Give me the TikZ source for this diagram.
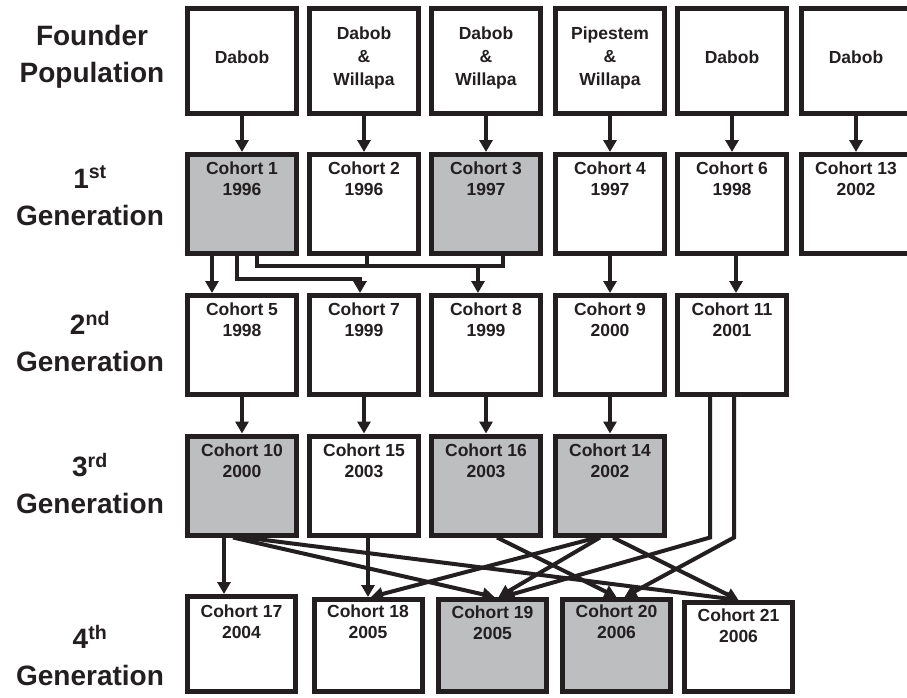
\documentclass[tikz,border=0pt]{standalone}
\usepackage{fontspec}
\setmainfont{Liberation Sans}
\usetikzlibrary{positioning,arrows.meta}
\definecolor{ink}{HTML}{231F20}
\definecolor{shade}{HTML}{BCBEC0}

\begin{document}
\begin{tikzpicture}[>={Triangle[width=13pt,length=12pt]},x=1pt,y=-1pt,
    box/.style={draw=ink,line width=5pt,fill=white,minimum width=109pt,minimum height=99pt,inner sep=0pt},
    grey/.style={box,fill=shade},
    txt/.style={anchor=north,align=center,inner sep=0pt,text=ink,font=\fontsize{17.5}{21}\selectfont\bfseries},
    found/.style={align=center,inner sep=0pt,text=ink,font=\fontsize{17.5}{23}\selectfont\bfseries},
    gen/.style={anchor=north,align=center,inner sep=0pt,text=ink,font=\fontsize{28}{37}\selectfont\bfseries},
    link/.style={draw=ink,line width=4pt},
    arr/.style={link,->}]
    \fill[white] (0,0) rectangle (907,697);
    \useasboundingbox (0,0) rectangle (907,697);

    % row labels
    \node[gen] (lf) at (92,25) {Founder\\Population};
    \node[gen] (l1) at (90,166) {1\textsuperscript{st}\\Generation};
    \node[gen] (l2) at (90,311) {2\textsuperscript{nd}\\Generation};
    \node[gen] (l3) at (90,453) {3\textsuperscript{rd}\\Generation};
    \node[gen] (l4) at (90,625) {4\textsuperscript{th}\\Generation};

    % founder populations
    \node[box,minimum height=105pt] (f1) at (242,61) {};
    \node[box,minimum height=105pt] (f2) at (364,61) {};
    \node[box,minimum height=105pt] (f3) at (486,61) {};
    \node[box,minimum height=105pt] (f4) at (610,61) {};
    \node[box,minimum height=105pt] (f5) at (732,61) {};
    \node[box,minimum height=105pt] (f6) at (856,61) {};
    \node[found] (f1t) at ([yshift=4pt]f1.center) {Dabob};
    \node[found] (f2t) at ([yshift=3pt]f2.center) {Dabob\\\&\\Willapa};
    \node[found] (f3t) at ([yshift=3pt]f3.center) {Dabob\\\&\\Willapa};
    \node[found] (f4t) at ([yshift=3pt]f4.center) {Pipestem\\\&\\Willapa};
    \node[found] (f5t) at ([yshift=4pt]f5.center) {Dabob};
    \node[found] (f6t) at ([yshift=4pt]f6.center) {Dabob};

    % 1st generation
    \node[grey] (c1) at (242,204) {};
    \node[box] (c2) at (364,204) {};
    \node[grey] (c3) at (486,204) {};
    \node[box] (c4) at (610,204) {};
    \node[box] (c6) at (732,204) {};
    \node[box] (c13) at (856,204) {};
    \node[txt] (c1t) at ([yshift=-10pt]c1.north) {Cohort 1\\1996};
    \node[txt] (c2t) at ([yshift=-10pt]c2.north) {Cohort 2\\1996};
    \node[txt] (c3t) at ([yshift=-10pt]c3.north) {Cohort 3\\1997};
    \node[txt] (c4t) at ([yshift=-10pt]c4.north) {Cohort 4\\1997};
    \node[txt] (c6t) at ([yshift=-10pt]c6.north) {Cohort 6\\1998};
    \node[txt] (c13t) at ([yshift=-10pt]c13.north) {Cohort 13\\2002};

    % 2nd generation
    \node[box] (c5) at (242,345) {};
    \node[box] (c7) at (364,345) {};
    \node[box] (c8) at (486,345) {};
    \node[box] (c9) at (610,345) {};
    \node[box] (c11) at (732,345) {};
    \node[txt] (c5t) at ([yshift=-10pt]c5.north) {Cohort 5\\1998};
    \node[txt] (c7t) at ([yshift=-10pt]c7.north) {Cohort 7\\1999};
    \node[txt] (c8t) at ([yshift=-10pt]c8.north) {Cohort 8\\1999};
    \node[txt] (c9t) at ([yshift=-10pt]c9.north) {Cohort 9\\2000};
    \node[txt] (c11t) at ([yshift=-10pt]c11.north) {Cohort 11\\2001};

    % 3rd generation
    \node[grey] (c10) at (242,485.5) {};
    \node[box] (c15) at (364,485.5) {};
    \node[grey] (c16) at (486,485.5) {};
    \node[grey] (c14) at (610,485.5) {};
    \node[txt] (c10t) at ([yshift=-10pt]c10.north) {Cohort 10\\2000};
    \node[txt] (c15t) at ([yshift=-10pt]c15.north) {Cohort 15\\2003};
    \node[txt] (c16t) at ([yshift=-10pt]c16.north) {Cohort 16\\2003};
    \node[txt] (c14t) at ([yshift=-10pt]c14.north) {Cohort 14\\2002};

    % 4th generation
    \node[box,minimum width=108pt,minimum height=95pt] (c17) at (241.5,644) {};
    \node[box,minimum width=108pt,minimum height=92pt] (c18) at (368,645.5) {};
    \node[grey,minimum width=108pt,minimum height=92pt] (c19) at (492.5,645.5) {};
    \node[grey,minimum width=108pt,minimum height=92pt] (c20) at (616.5,645.5) {};
    \node[box,minimum width=108pt,minimum height=89pt] (c21) at (738.5,647) {};
    \node[txt] (c17t) at ([yshift=-11pt]c17.north) {Cohort 17\\2004};
    \node[txt] (c18t) at ([yshift=-8pt]c18.north) {Cohort 18\\2005};
    \node[txt] (c19t) at ([yshift=-9pt]c19.north) {Cohort 19\\2005};
    \node[txt] (c20t) at ([yshift=-8pt]c20.north) {Cohort 20\\2006};
    \node[txt] (c21t) at ([yshift=-9pt]c21.north) {Cohort 21\\2006};

    % founders to 1st generation
    \foreach \a/\b in {f1/c1,f2/c2,f3/c3,f4/c4,f5/c6,f6/c13}
        \draw[arr] (\a) -- (\b);

    % 1st to 2nd generation
    \draw[arr] ([xshift=-30pt]c1.south) -- ([xshift=-30pt]c5.north);
    \draw[arr] ([xshift=-5pt]c1.south) -- ++(0,23) -| ([xshift=-4pt]c7.north);
    \draw[link] ([xshift=15pt]c1.south) -- ++(0,10) -| ([xshift=17pt]c3.south);
    \draw[link] ([xshift=3pt]c2.south) -- ++(0,10);
    \coordinate (bus) at ([xshift=-8pt,yshift=-10pt]c3.south);
    \draw[arr] (bus) -- (bus |- c8.north);
    \draw[arr] (c4) -- (c9);
    \draw[arr] ([xshift=4pt]c6.south) -- ([xshift=4pt]c11.north);

    % 2nd to 3rd generation
    \foreach \a/\b in {c5/c10,c7/c15,c8/c16,c9/c14}
        \draw[arr] (\a) -- (\b);
    \draw[arr] ([xshift=-22pt]c11.south) -- ([xshift=-22pt]c11.south |- c14.south) -- ([xshift=10pt]c19.north);
    \draw[arr] ([xshift=2pt]c11.south) -- ([xshift=2pt]c11.south |- c14.south) -- ([xshift=8pt]c20.north);

    % 3rd to 4th generation
    \draw[arr] ([xshift=-18pt]c10.south) -- ([xshift=-18pt]c10.south |- c17.north);
    \draw[arr] ([xshift=-9pt]c10.south) -- ([xshift=2pt]c19.north);
    \draw[arr] ([xshift=3pt]c10.south) -- (c21.north);
    \draw[arr] ([xshift=4pt]c15.south) -- (c18.north);
    \draw[arr] ([xshift=11pt]c16.south) -- (c20.north);
    \draw[arr] ([xshift=-13pt]c14.south) -- ([xshift=3pt]c18.north);
    \draw[arr] ([xshift=-10pt]c14.south) -- ([xshift=6pt]c19.north);
    \draw[arr] ([xshift=3pt]c14.south) -- (c21.north);
\end{tikzpicture}
\end{document}
